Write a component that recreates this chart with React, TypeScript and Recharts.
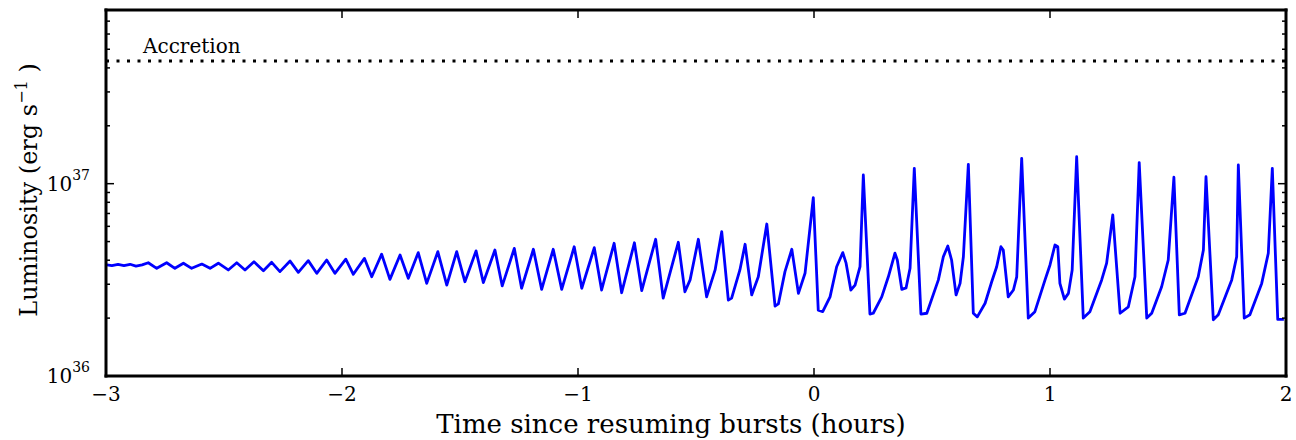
import { Line, LineChart, ReferenceLine, XAxis, YAxis } from "recharts";

// time since bursts resumed (hours)
const hours = [
    -2.996, -2.975, -2.949, -2.924, -2.898, -2.873, -2.847,
    -2.821, -2.785, -2.743, -2.708, -2.672, -2.637, -2.594, -2.559,
    -2.524, -2.482, -2.446, -2.411, -2.373, -2.333, -2.298, -2.263,
    -2.22, -2.185, -2.143, -2.107, -2.065, -2.03, -1.984, -1.952,
    -1.905, -1.874, -1.832, -1.797, -1.754, -1.719, -1.677, -1.641,
    -1.594, -1.556, -1.514, -1.479, -1.432, -1.401, -1.352, -1.321,
    -1.27, -1.239, -1.189, -1.154, -1.105, -1.069, -1.016, -0.984,
    -0.931, -0.9, -0.847, -0.815, -0.761, -0.73, -0.671, -0.639,
    -0.575, -0.547, -0.525, -0.49, -0.455, -0.419, -0.391, -0.363,
    -0.349, -0.314, -0.292, -0.264, -0.236, -0.2, -0.165, -0.151,
    -0.123, -0.094, -0.066, -0.038, -0.003, 0.018, 0.037, 0.068,
    0.096, 0.122, 0.136, 0.156, 0.174, 0.195, 0.209, 0.237,
    0.251, 0.287, 0.315, 0.343, 0.353, 0.372, 0.39, 0.407,
    0.425, 0.453, 0.478, 0.527, 0.548, 0.567, 0.583, 0.602,
    0.619, 0.633, 0.654, 0.675, 0.692, 0.725, 0.753, 0.774,
    0.792, 0.802, 0.823, 0.845, 0.859, 0.88, 0.908, 0.936,
    0.979, 1.0, 1.021, 1.033, 1.042, 1.061, 1.078, 1.094,
    1.113, 1.141, 1.169, 1.219, 1.24, 1.266, 1.297, 1.332,
    1.36, 1.378, 1.41, 1.431, 1.473, 1.501, 1.525, 1.548,
    1.572, 1.628, 1.65, 1.661, 1.692, 1.713, 1.77, 1.791,
    1.798, 1.823, 1.847, 1.897, 1.925, 1.942, 1.965, 1.991,
];

// luminosity in units of 1e36 erg/s
const luminosity = [
    3.78, 3.75, 3.8, 3.75, 3.81, 3.73, 3.78,
    3.88, 3.63, 3.88, 3.63, 3.86, 3.63, 3.82, 3.63,
    3.86, 3.56, 3.88, 3.56, 3.93, 3.53, 3.9, 3.49,
    3.96, 3.46, 3.98, 3.42, 4.01, 3.42, 4.05, 3.38,
    4.09, 3.28, 4.3, 3.18, 4.26, 3.22, 4.38, 3.03,
    4.43, 2.97, 4.43, 3.09, 4.47, 3.06, 4.52, 2.94,
    4.61, 2.86, 4.56, 2.82, 4.56, 2.82, 4.7, 2.86,
    4.65, 2.8, 4.9, 2.71, 4.93, 2.78, 5.14, 2.54,
    4.96, 2.74, 3.16, 5.14, 2.58, 3.56, 5.63, 2.48,
    2.54, 3.56, 4.84, 2.64, 3.28, 6.17, 2.31, 2.37,
    3.49, 4.56, 2.69, 3.42, 8.46, 2.2, 2.16, 2.58,
    3.7, 4.38, 3.86, 2.8, 2.97, 3.7, 11.1, 2.1,
    2.12, 2.58, 3.28, 4.35, 4.01, 2.82, 2.87, 3.63,
    12.02, 2.1, 2.12, 3.16, 4.17, 4.74, 4.01, 2.64,
    3.03, 4.17, 12.6, 2.12, 2.03, 2.39, 3.09, 3.7,
    4.7, 4.52, 2.58, 2.8, 3.28, 13.55, 2.0, 2.16,
    3.16, 3.78, 4.8, 4.7, 3.03, 2.51, 2.69, 3.56,
    13.81, 2.0, 2.16, 3.16, 3.86, 6.88, 2.12, 2.29,
    3.28, 12.86, 2.0, 2.12, 2.91, 4.01, 10.8, 2.08,
    2.12, 3.28, 4.52, 10.87, 1.96, 2.08, 3.16, 4.17,
    12.51, 2.0, 2.08, 3.03, 4.35, 12.02, 1.97, 1.97,
];

const accretionLevel = 43.5;

const xTicks = [-3, -2, -1, 0, 1, 2];
const yTicks = [1, 2, 3, 4, 5, 6, 7, 8, 9, 10, 20, 30, 40, 50, 60, 70, 80];
const yMajor = [1, 10];

const data = hours.map((t, i) => ({ t, lum: luminosity[i] }));

const FONT = "'DejaVu Serif', serif";

const formatHour = (v: number) => (v < 0 ? `\u2212${Math.abs(v)}` : `${v}`);

function BottomTick({ x, y, payload }: any) {
    return (
        <g>
            <line x1={x} y1={y} x2={x} y2={y - 8} stroke="#000" strokeWidth={1.5} />
            <text
                x={x}
                y={y + 25}
                textAnchor="middle"
                fontFamily={FONT}
                fontSize={20}
                fill="#000"
            >
                {formatHour(payload.value)}
            </text>
        </g>
    );
}

function TopTick({ x, y }: any) {
    return <line x1={x} y1={y} x2={x} y2={y + 8} stroke="#000" strokeWidth={1.5} />;
}

function LeftTick({ x, y, payload }: any) {
    const major = yMajor.includes(payload.value);
    return (
        <g>
            <line
                x1={x}
                y1={y}
                x2={x + (major ? 8 : 4)}
                y2={y}
                stroke="#000"
                strokeWidth={1.5}
            />
            {major && (
                <text
                    x={x - 16}
                    y={y + 7}
                    textAnchor="end"
                    fontFamily={FONT}
                    fontSize={20}
                    fill="#000"
                >
                    10
                    <tspan dy={-11} fontSize={14}>
                        {36 + Math.round(Math.log10(payload.value))}
                    </tspan>
                </text>
            )}
        </g>
    );
}

function RightTick({ x, y, payload }: any) {
    const major = yMajor.includes(payload.value);
    return (
        <line
            x1={x}
            y1={y}
            x2={x - (major ? 8 : 4)}
            y2={y}
            stroke="#000"
            strokeWidth={1.5}
        />
    );
}

function YTitle({ viewBox }: any) {
    const cx = viewBox.x + 37;
    const cy = viewBox.y + viewBox.height / 2 - 3;
    return (
        <text
            x={cx}
            y={cy}
            transform={`rotate(-90, ${cx}, ${cy})`}
            textAnchor="middle"
            fontFamily={FONT}
            fontSize={24}
            fill="#000"
        >
            Luminosity (erg s
            <tspan dy={-10} fontSize={16}>
                {"\u22121"}
            </tspan>
            <tspan dy={10}> )</tspan>
        </text>
    );
}

function XTitle({ viewBox }: any) {
    return (
        <text
            x={viewBox.x + viewBox.width / 2 - 25}
            y={viewBox.y + 57}
            textAnchor="middle"
            fontFamily={FONT}
            fontSize={26}
            fill="#000"
        >
            Time since resuming bursts (hours)
        </text>
    );
}

function AccretionLabel({ viewBox }: any) {
    return (
        <text
            x={viewBox.x + 37}
            y={viewBox.y - 8}
            fontFamily={FONT}
            fontSize={20}
            fill="#000"
        >
            Accretion
        </text>
    );
}

const frame = { stroke: "#000", strokeWidth: 3, strokeLinecap: "square" as const };

export default function App() {
    return (
        <div style={{ background: "#fff" }}>
            <style>{"body{margin:0;background:#fff}"}</style>
            <LineChart
                width={1296}
                height={440}
                data={data}
                margin={{ top: 9, right: 9, left: 0, bottom: 0 }}
            >
                <XAxis
                    dataKey="t"
                    type="number"
                    domain={[-3, 2]}
                    ticks={xTicks}
                    interval={0}
                    allowDataOverflow
                    height={64}
                    tickSize={0}
                    tickMargin={0}
                    tickLine={false}
                    axisLine={frame}
                    tick={<BottomTick />}
                    label={{ content: <XTitle /> }}
                />
                <XAxis
                    xAxisId="top"
                    orientation="top"
                    dataKey="t"
                    type="number"
                    domain={[-3, 2]}
                    ticks={xTicks}
                    interval={0}
                    allowDataOverflow
                    height={1}
                    tickSize={0}
                    tickMargin={0}
                    tickLine={false}
                    axisLine={frame}
                    tick={<TopTick />}
                />
                <YAxis
                    scale="log"
                    type="number"
                    domain={[1, 80]}
                    ticks={yTicks}
                    interval={0}
                    allowDataOverflow
                    width={106}
                    tickSize={0}
                    tickMargin={0}
                    tickLine={false}
                    axisLine={frame}
                    tick={<LeftTick />}
                    label={{ content: <YTitle /> }}
                />
                <YAxis
                    yAxisId="right"
                    orientation="right"
                    scale="log"
                    type="number"
                    domain={[1, 80]}
                    ticks={yTicks}
                    interval={0}
                    allowDataOverflow
                    width={1}
                    tickSize={0}
                    tickMargin={0}
                    tickLine={false}
                    axisLine={frame}
                    tick={<RightTick />}
                />
                <ReferenceLine
                    y={accretionLevel}
                    stroke="#000"
                    strokeWidth={3}
                    strokeDasharray="3 7.5"
                    label={{ content: <AccretionLabel /> }}
                />
                <Line
                    type="linear"
                    dataKey="lum"
                    stroke="#0000ff"
                    strokeWidth={2.8}
                    strokeLinejoin="round"
                    dot={false}
                    activeDot={false}
                    isAnimationActive={false}
                />
            </LineChart>
        </div>
    );
}
